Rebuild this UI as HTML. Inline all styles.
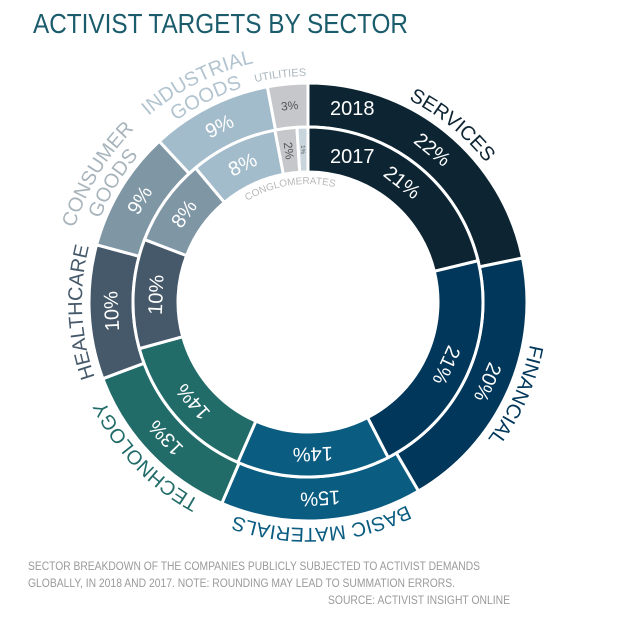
<!DOCTYPE html>
<html><head><meta charset="utf-8"><style>
body{margin:0;background:#fff;}
svg{display:block;font-family:"Liberation Sans",sans-serif;}
</style></head><body>
<svg id="chart" width="618" height="636" viewBox="0 0 618 636">
<text x="33" y="33" font-size="28" fill="#1b5c6c" textLength="375" lengthAdjust="spacingAndGlyphs">ACTIVIST TARGETS BY SECTOR</text>
<g id="rings"></g>
<text x="28" y="570" font-size="12" fill="#9a9a9a" textLength="452" lengthAdjust="spacingAndGlyphs">SECTOR BREAKDOWN OF THE COMPANIES PUBLICLY SUBJECTED TO ACTIVIST DEMANDS</text>
<text x="28" y="587" font-size="12" fill="#9a9a9a" textLength="427" lengthAdjust="spacingAndGlyphs">GLOBALLY, IN 2018 AND 2017. NOTE: ROUNDING MAY LEAD TO SUMMATION ERRORS.</text>
<text x="510" y="604" font-size="12" fill="#9a9a9a" text-anchor="end" textLength="182" lengthAdjust="spacingAndGlyphs">SOURCE: ACTIVIST INSIGHT ONLINE</text>
</svg>
<script>
const sectors2018 = ["SERVICES","FINANCIAL","BASIC MATERIALS","TECHNOLOGY","HEALTHCARE","CONSUMER GOODS","INDUSTRIAL GOODS","UTILITIES"];
const values2018 = [22,20,15,13,10,9,9,3];
const sectors2017 = ["SERVICES","FINANCIAL","BASIC MATERIALS","TECHNOLOGY","HEALTHCARE","CONSUMER GOODS","INDUSTRIAL GOODS","UTILITIES","CONGLOMERATES"];
const values2017 = [21,21,14,14,10,8,8,2,1];
const labels2017 = ["21%","21%","14%","14%","10%","8%","8%","2%","1%"];
const labels2018 = ["22%","20%","15%","13%","10%","9%","9%","3%"];

const colors = {"SERVICES":"#0d2533","FINANCIAL":"#00375a","BASIC MATERIALS":"#0a5c81","TECHNOLOGY":"#216c69","HEALTHCARE":"#46596a","CONSUMER GOODS":"#7f96a5","INDUSTRIAL GOODS":"#a3bccb","UTILITIES":"#c6c7ca","CONGLOMERATES":"#c9d5dd"};
const textColors = {"UTILITIES":"#555","CONGLOMERATES":"#555"};
const cx=308, cy=302, rHole=130, rMid=175, rOut=219;
const NS="http://www.w3.org/2000/svg";
const g=document.getElementById('rings');
function pt(a,r){return [cx+r*Math.sin(a), cy-r*Math.cos(a)];}
function angle(frac){return frac*2*Math.PI;}
function arc(a0,a1,r0,r1){
  const [x0,y0]=pt(a0,r1),[x1,y1]=pt(a1,r1),[x2,y2]=pt(a1,r0),[x3,y3]=pt(a0,r0);
  const lg=(a1-a0)>Math.PI?1:0;
  return `M${x0},${y0}A${r1},${r1} 0 ${lg} 1 ${x1},${y1}L${x2},${y2}A${r0},${r0} 0 ${lg} 0 ${x3},${y3}Z`;
}
function drawRing(names,vals,labs,r0,r1,ring){
  const total=vals.reduce((a,b)=>a+b,0);
  let c=0;
  vals.forEach((v,i)=>{
    const a0=angle(c/total), a1=angle((c+v)/total); c+=v;
    const p=document.createElementNS(NS,'path');
    p.setAttribute('d',arc(a0,a1,r0,r1));
    p.setAttribute('fill',colors[names[i]]);
    p.setAttribute('stroke','#fff');p.setAttribute('stroke-width','3');
    
    
    g.appendChild(p);
    const am=(a0+a1)/2, rm=(r0+r1)/2, [tx,ty]=pt(am,rm);
    const t=document.createElementNS(NS,'text');
    const small=v<5;
    t.setAttribute('x',tx);t.setAttribute('y',ty+(small?(v<2?2:4):7));
    t.setAttribute('text-anchor','middle');
    t.setAttribute('font-size',small?(v<2?6:12):20);
    t.setAttribute('fill',textColors[names[i]]||'#fff');
    let rot=am*180/Math.PI; if(small&&ring==='2017')rot+=90;
    t.setAttribute('transform',`rotate(${rot} ${tx} ${ty})`);
    t.textContent=labs[i];
    
    
    g.appendChild(t);
  });
}
drawRing(sectors2018,values2018,labels2018,rMid,rOut,'2018');
drawRing(sectors2017,values2017,labels2017,rHole,rMid,'2017');

const defs=document.createElementNS(NS,'defs');g.appendChild(defs);
function circ(id,r,fromBottom){
  const p=document.createElementNS(NS,'path');
  p.setAttribute('id',id);
  if(fromBottom) p.setAttribute('d',`M${cx},${cy+r}A${r},${r} 0 1 1 ${cx},${cy-r}A${r},${r} 0 1 1 ${cx},${cy+r}`);
  else p.setAttribute('d',`M${cx},${cy-r}A${r},${r} 0 1 1 ${cx},${cy+r}A${r},${r} 0 1 1 ${cx},${cy-r}`);
  defs.appendChild(p);
}
circ('c1',226);circ('c2',245);circ('c3',224);circ('cin',118,true);
const total18=values2018.reduce((a,b)=>a+b,0);
let cum=0;const mids=[];
values2018.forEach(v=>{mids.push((cum+v/2)/total18);cum+=v;});
function curved(text,pathId,r,frac,size,color){
  const t=document.createElementNS(NS,'text');
  t.setAttribute('font-size',size);t.setAttribute('fill',color);
  const tp=document.createElementNS(NS,'textPath');
  tp.setAttribute('href','#'+pathId);
  tp.setAttribute('startOffset',(frac*2*Math.PI*r)+'');
  tp.setAttribute('text-anchor','middle');
  tp.textContent=text;
  t.appendChild(tp);
  
  
  g.appendChild(t);
}
curved('SERVICES','c1',226,mids[0],20,'#0d2533');
curved('FINANCIAL','c1',226,mids[1],20,'#00375a');
curved('BASIC MATERIALS','c1',226,mids[2],20,'#0a5c81');
curved('TECHNOLOGY','c1',226,mids[3],20,'#216c69');
curved('HEALTHCARE','c1',226,mids[4],20,'#46596a');
curved('CONSUMER','c2',245,mids[5],20,'#a8b4bc');
curved('GOODS','c3',224,mids[5],20,'#a8b4bc');
curved('INDUSTRIAL','c2',245,mids[6],20,'#b2c4cf');
curved('GOODS','c3',224,mids[6],20,'#b2c4cf');
curved('UTILITIES','c1',226,mids[7]-0.005,11,'#a9b6be');
curved('CONGLOMERATES','cin',118,0.475,10,'#b8b8b8');

[['2018',330,115],['2017',330,163]].forEach(([s,x,y])=>{
  const t=document.createElementNS(NS,'text');
  t.setAttribute('x',x);t.setAttribute('y',y);t.setAttribute('font-size',20);t.setAttribute('fill','#fff');
  t.textContent=s;
  
  
  g.appendChild(t);
});
</script>
</body></html>
